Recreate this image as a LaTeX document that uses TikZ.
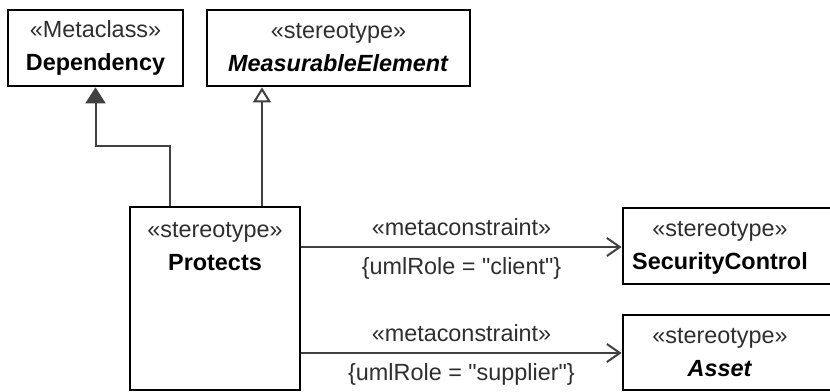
\documentclass[tikz,border=0pt]{standalone}
\usepackage{fontspec}
\setmainfont{Liberation Sans}
\usetikzlibrary{arrows.meta,positioning,calc}
\definecolor{linegray}{HTML}{404040}
\definecolor{stereogray}{HTML}{2E2E2E}
\newcommand{\stereo}[1]{{\color{stereogray}«#1»}}
\newcommand{\dq}{\XeTeXglyph\the\XeTeXcharglyph"22\relax}

\begin{document}
\begin{tikzpicture}[x=0.5pt, y=-0.5pt, font=\fontsize{11.7}{16.5}\selectfont]
  \tikzset{umlbox/.style={draw, line width=1.4pt, inner sep=0pt, align=center},
    boxtext/.style={inner sep=0pt, align=center},
    conn/.style={draw=linegray, line width=1pt},
    tagtext/.style={inner sep=0pt, text=stereogray}}
  \useasboundingbox (0,0) rectangle (830,391);
  % metaclass and parent stereotype
  \node[umlbox, minimum width=87.5pt, minimum height=38pt] (dep) at (95.5,48) {\stereo{Metaclass}\\ \textbf{Dependency}};
  \node[umlbox, minimum width=131.5pt, minimum height=38pt] (meas) at (338.5,48) {\stereo{stereotype}\\ \textbf{\itshape MeasurableElement}};
  % the stereotype itself
  \node[umlbox, minimum width=85pt, minimum height=91.5pt] (prot) at (215,298.5) {};
  \node[boxtext] (prottext) at (215,247) {\stereo{stereotype}\\ \textbf{Protects}};
  % constrained ends (cut at the right margin)
  \node[umlbox, minimum width=108.5pt, minimum height=38pt] (sec) at (731.5,246) {};
  \node[boxtext] (sectext) at (720,247.5) {\stereo{stereotype}\\ \textbf{SecurityControl}};
  \node[umlbox, minimum width=108.5pt, minimum height=37.5pt] (asset) at (731.5,352.5) {};
  \node[boxtext] (assettext) at (720,352.5) {\stereo{stereotype}\\ \textbf{\itshape Asset}};
  % extension and generalization
  \draw[conn, -{Triangle[length=8pt,width=10pt]}, linegray] ([xshift=-22.5pt]prot.north) -- ++(0,-60) -| (dep.south);
  \draw[conn, -{Triangle[open,length=7.5pt,width=9pt,fill=white]}] ([xshift=23.5pt]prot.north) coordinate (pm) -- (pm |- meas.south);
  % metaconstraints
  \draw[conn, -{Straight Barb[length=6.5pt,width=9pt]}] ([yshift=25.75pt]prot.east) coordinate (pc) -- (pc -| sec.west)
    node[tagtext, midway, yshift=10pt] {«metaconstraint»}
    node[tagtext, midway, yshift=-10.5pt] {\{umlRole = \dq client\dq\}};
  \draw[conn, -{Straight Barb[length=6.5pt,width=9pt]}] ([yshift=-27.25pt]prot.east) coordinate (ps) -- (ps -| asset.west)
    node[tagtext, midway, yshift=10pt] {«metaconstraint»}
    node[tagtext, midway, yshift=-10.5pt] {\{umlRole = \dq supplier\dq\}};
\end{tikzpicture}
\end{document}
